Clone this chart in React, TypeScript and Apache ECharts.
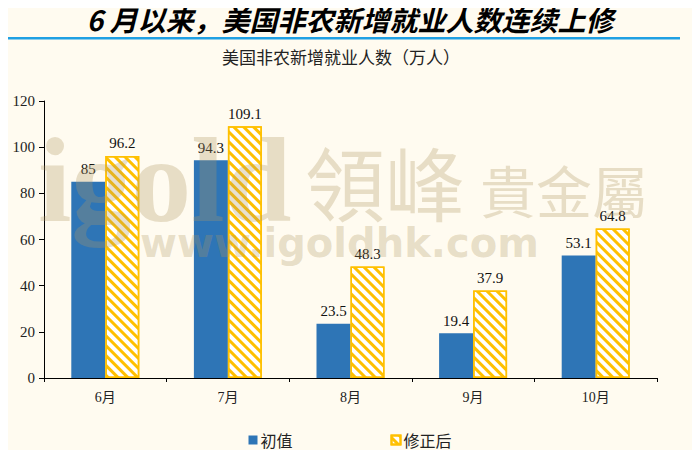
import React, { useEffect, useRef } from "react";
import * as echarts from "echarts";

const categories = ["6月", "7月", "8月", "9月", "10月"];
const initialValues = [85, 94.3, 23.5, 19.4, 53.1];
const revisedValues = [96.2, 109.1, 48.3, 37.9, 64.8];
const seriesNames = ["初值", "修正后"];
const yTicks = { min: 0, max: 120, interval: 20 };

const FONT = '"Liberation Serif", "Noto Sans CJK SC", serif';
const BLUE = "#2E75B6";
const YELLOW = "#FFC000";
const WM = "rgba(175,152,100,0.3)";

export default function App() {
  const ref = useRef<HTMLDivElement>(null);
  useEffect(() => {
    if (!ref.current) return;
    const chart = echarts.init(ref.current, null, { renderer: "svg" });
    chart.setOption({
      animation: false,
      backgroundColor: "#FFFBF0",
      textStyle: { fontFamily: FONT },
      graphic: [
        {
          type: "text",
          x: 350,
          y: 19,
          style: {
            text: "6 月以来，美国非农新增就业人数连续上修",
            font: 'italic bold 28px "Noto Sans CJK SC", sans-serif',
            fill: "#000",
            align: "center",
            verticalAlign: "middle",
          },
        },
        {
          type: "rect",
          shape: { x: 0, y: 37, width: 680, height: 2.5 },
          style: { fill: "#1FA0E3" },
        },
        {
          type: "text",
          x: 341,
          y: 56,
          style: {
            text: "美国非农新增就业人数（万人）",
            font: '17px "Noto Sans CJK SC", serif',
            fill: "#222",
            align: "center",
            verticalAlign: "middle",
          },
        },
        {
          type: "text",
          z: 100,
          silent: true,
          x: 38,
          y: 120,
          style: {
            text: "igold",
            font: 'bold 120px "Liberation Serif", serif',
            fill: WM,
            verticalAlign: "top",
          },
        },
        {
          type: "text",
          z: 100,
          silent: true,
          x: 305,
          y: 180,
          style: {
            text: "領峰",
            font: '80px "Noto Sans CJK TC", sans-serif',
            fill: WM,
            verticalAlign: "middle",
          },
        },
        {
          type: "text",
          z: 100,
          silent: true,
          x: 480,
          y: 188,
          style: {
            text: "貴金屬",
            font: '56px "Noto Sans CJK TC", sans-serif',
            fill: WM,
            verticalAlign: "middle",
          },
        },
        {
          type: "text",
          z: 100,
          silent: true,
          x: 140,
          y: 243,
          style: {
            text: "www.igoldhk.com",
            font: 'bold 40px "DejaVu Sans", sans-serif',
            fill: WM,
            verticalAlign: "middle",
          },
        },
      ],
      legend: {
        bottom: 5,
        left: "center",
        itemWidth: 9,
        itemHeight: 9,
        itemGap: 98,
        icon: "rect",
        textStyle: { fontSize: 16, fontFamily: '"Noto Sans CJK SC", serif', color: "#222", padding: [0, 0, 0, -2] },
        data: seriesNames,
      },
      grid: { left: 44, right: 43, top: 101, bottom: 80 },
      xAxis: {
        type: "category",
        data: categories,
        axisLine: { lineStyle: { color: "#000", width: 1 } },
        axisTick: { show: true, alignWithLabel: false, length: 4, lineStyle: { color: "#000" } },
        axisLabel: { fontSize: 14, color: "#222", margin: 12, fontFamily: FONT },
      },
      yAxis: {
        type: "value",
        min: yTicks.min,
        max: yTicks.max,
        interval: yTicks.interval,
        splitLine: { show: false },
        axisLine: { show: true, lineStyle: { color: "#000", width: 1 } },
        axisTick: { show: true, length: 5, lineStyle: { color: "#000" } },
        axisLabel: { fontSize: 15, color: "#222", margin: 9, fontFamily: FONT },
      },
      series: [
        {
          name: seriesNames[0],
          type: "bar",
          data: initialValues,
          barWidth: 34,
          barGap: "0%",
          itemStyle: { color: BLUE },
          label: { show: true, position: "top", distance: 5, fontSize: 15, color: "#111", fontFamily: FONT },
        },
        {
          name: seriesNames[1],
          type: "bar",
          data: revisedValues,
          barWidth: 34,
          barGap: "0%",
          itemStyle: {
            color: "#FFFFFF",
            borderColor: YELLOW,
            borderWidth: 1.5,
            decal: {
              symbol: "rect",
              symbolSize: 1,
              dashArrayX: [1, 0],
              dashArrayY: [3, 4],
              rotation: Math.PI / 4,
              color: YELLOW,
            },
          },
          label: { show: true, position: "top", distance: 5, fontSize: 15, color: "#111", fontFamily: FONT },
        },
      ],
    });
    return () => chart.dispose();
  }, []);
  return <div ref={ref} style={{ width: 700, height: 458, margin: -8 }} />;
}
